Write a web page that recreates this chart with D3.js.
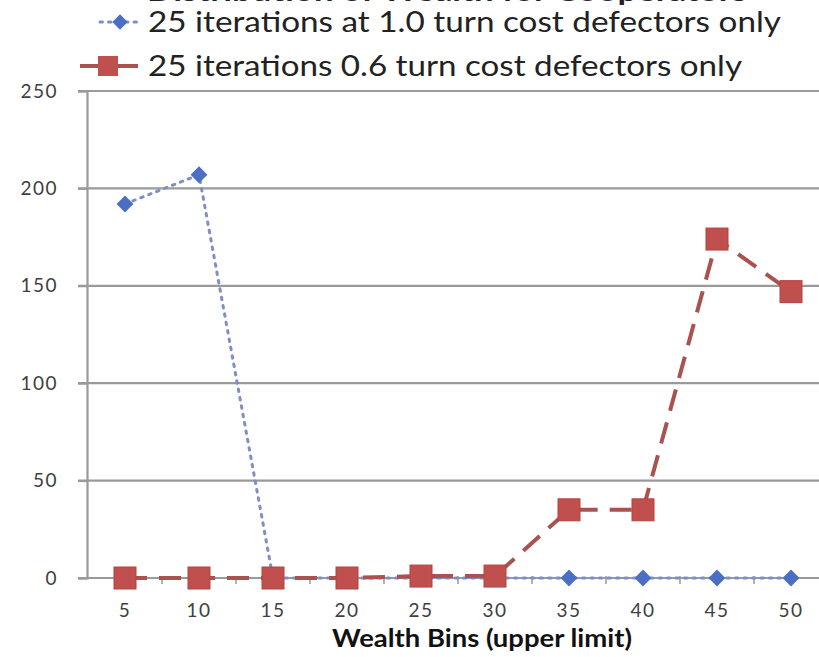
<!DOCTYPE html>
<html><head><meta charset="utf-8">
<script src="https://cdn.jsdelivr.net/npm/d3@7/dist/d3.min.js"></script>
<style>body{margin:0;background:#fff}svg{display:block}</style>
</head><body>
<script>
const categories = ["5","10","15","20","25","30","35","40","45","50"];
const seriesA = [192, 207, 0, 0, 0, 0, 0, 0, 0, 0];
const seriesB = [0, 0, 0, 0, 1, 1, 35, 35, 174, 147];
const seriesNames = ["25 iterations at 1.0 turn cost defectors only", "25 iterations 0.6 turn cost defectors only"];
const yTicks = [0, 50, 100, 150, 200, 250];
const titleText = "Distribution of Wealth for Cooperators";
const xTitle = "Wealth Bins (upper limit)";

const W = 819, H = 657;
const svg = d3.select("body").append("svg").attr("width", W).attr("height", H);
const font = "Lato, 'Open Sans', sans-serif";

const x = d3.scaleBand().domain(categories).range([88, 828]);
const y = d3.scaleLinear().domain([0, 250]).range([578, 91]);
const cx = d => x(d) + x.bandwidth() / 2;

// title (cut off at top, as in the reference)
svg.append("text").attr("x", 447).attr("y", 1).attr("text-anchor", "middle")
  .attr("font-family", font).attr("font-weight", "bold").attr("font-size", 26)
  .attr("textLength", 600).attr("lengthAdjust", "spacingAndGlyphs")
  .attr("fill", "#222").text(titleText);

// gridlines
svg.append("g").selectAll("line").data(yTicks.filter(t => t > 0)).join("line")
  .attr("x1", 78).attr("x2", W).attr("y1", d => y(d)).attr("y2", d => y(d))
  .attr("stroke", "#9a9a9a").attr("stroke-width", 2.2);

// y axis
const yAxis = svg.append("g").attr("transform", "translate(87,0)")
  .call(d3.axisLeft(y).tickValues(yTicks).tickSize(9).tickPadding(20));
yAxis.select(".domain").attr("stroke", "#9a9a9a").attr("stroke-width", 2.2);
yAxis.selectAll(".tick line").attr("stroke", "#9a9a9a").attr("stroke-width", 2);
yAxis.selectAll("text").attr("font-family", font).attr("font-size", 19)
  .attr("letter-spacing", 1.5).attr("fill", "#404040");

// x axis
const xAxis = svg.append("g").attr("transform", `translate(0,${y(0)})`)
  .call(d3.axisBottom(x).tickSize(0).tickPadding(26));
xAxis.select(".domain").attr("stroke", "#9a9a9a").attr("stroke-width", 2.2).attr("d", `M78,0H${W}`);
xAxis.selectAll("text").attr("font-family", font).attr("font-size", 19)
  .attr("letter-spacing", 1.5).attr("fill", "#404040");
svg.append("g").selectAll("line").data(categories).join("line")
  .attr("x1", d => x(d) + x.bandwidth()).attr("x2", d => x(d) + x.bandwidth())
  .attr("y1", y(0) - 2).attr("y2", y(0) + 6).attr("stroke", "#9a9a9a").attr("stroke-width", 1.5);

svg.append("text").attr("x", 482).attr("y", 647).attr("text-anchor", "middle")
  .attr("font-family", font).attr("font-weight", "bold").attr("font-size", 24)
  .attr("textLength", 300).attr("lengthAdjust", "spacingAndGlyphs")
  .attr("fill", "#111").text(xTitle);

const line = d3.line().x((d, i) => cx(categories[i])).y(d => y(d));
const blue = "#4a6fc4", red = "#c0504d";

// series A (blue dotted) with diamonds
svg.append("path").datum(seriesA).attr("d", line).attr("fill", "none")
  .attr("stroke", "#7d8fc4").attr("stroke-width", 3).attr("stroke-dasharray", "2.5,6").attr("stroke-linecap", "round");
svg.append("g").selectAll("path").data(seriesA).join("path")
  .attr("d", d3.symbol(d3.symbolDiamond2, 180)())
  .attr("transform", (d, i) => `translate(${cx(categories[i])},${y(d)})`)
  .attr("fill", blue);

// series B (red dashed) with squares, drawn on top
svg.append("path").datum(seriesB).attr("d", line).attr("fill", "none")
  .attr("stroke", "#a9524f").attr("stroke-width", 4).attr("stroke-dasharray", "22,12");
svg.append("g").selectAll("rect").data(seriesB).join("rect")
  .attr("x", (d, i) => cx(categories[i]) - 11).attr("y", d => y(d) - 11)
  .attr("width", 22).attr("height", 22).attr("fill", red).attr("stroke", "#b5433f");

// legend
const lg = svg.append("g");
lg.append("line").attr("x1", 100).attr("x2", 140).attr("y1", 22).attr("y2", 22)
  .attr("stroke", "#7d8fc4").attr("stroke-width", 3).attr("stroke-dasharray", "2.5,6").attr("stroke-linecap", "round");
lg.append("path").attr("d", d3.symbol(d3.symbolDiamond2, 150)()).attr("transform", "translate(120,22)").attr("fill", blue);
lg.append("text").attr("x", 148).attr("y", 32).attr("font-family", font).attr("font-size", 29)
  .attr("textLength", 633).attr("lengthAdjust", "spacingAndGlyphs")
  .attr("fill", "#222").text(seriesNames[0]);
lg.append("line").attr("x1", 80).attr("x2", 138).attr("y1", 66).attr("y2", 66)
  .attr("stroke", "#a9524f").attr("stroke-width", 4);
lg.append("rect").attr("x", 98).attr("y", 56).attr("width", 20).attr("height", 20).attr("fill", red);
lg.append("text").attr("x", 148).attr("y", 76).attr("font-family", font).attr("font-size", 29)
  .attr("textLength", 594).attr("lengthAdjust", "spacingAndGlyphs")
  .attr("fill", "#222").text(seriesNames[1]);
</script>
</body></html>
